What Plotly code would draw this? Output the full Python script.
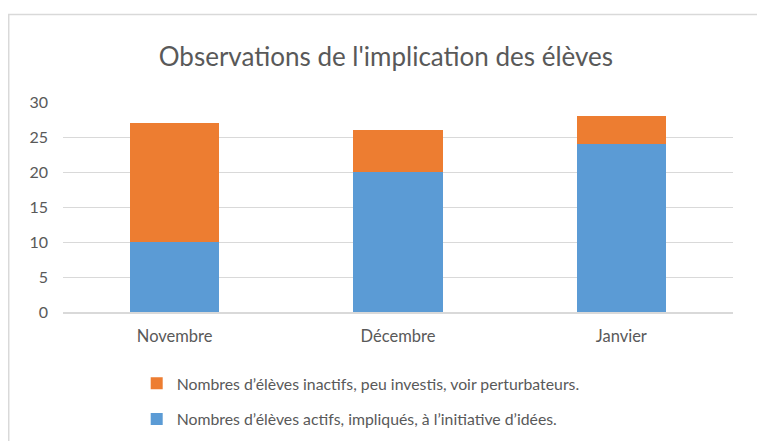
import plotly.graph_objects as go

mois = ["Novembre", "Décembre", "Janvier"]
actifs = [10, 20, 24]
inactifs = [17, 6, 4]

BLEU = "#5B9BD5"
ORANGE = "#ED7D31"
GRIS_TEXTE = "#595959"
FONT = "Lato"

fig = go.Figure()
fig.add_trace(go.Bar(
    x=mois, y=actifs, name="Nombres d’élèves actifs, impliqués, à l’initiative d’idées.",
    marker_color=BLEU, marker_line_width=0, legendgroup="a", legendrank=2,
))
fig.add_trace(go.Bar(
    x=mois, y=inactifs, name="Nombres d’élèves inactifs, peu investis, voir perturbateurs.",
    marker_color=ORANGE, marker_line_width=0, legendgroup="b", legendrank=1,
))

# cadre du graphique (style Excel)
fig.add_shape(type="rect", xref="paper", yref="paper",
              x0=-0.081, x1=1.042, y0=-0.7, y1=1.417,
              line=dict(color="#d9d9d9", width=1.5), layer="below")

fig.update_layout(
    width=765, height=441,
    barmode="stack", bargap=0.6,
    plot_bgcolor="white", paper_bgcolor="white",
    font=dict(family=FONT, color=GRIS_TEXTE, size=13),
    title=dict(text="Observations de l'implication des élèves",
               x=0.494, xanchor="center", y=0.888, yanchor="middle",
               font=dict(size=26, color=GRIS_TEXTE, family=FONT)),
    margin=dict(l=55, r=40, t=94, b=137, autoexpand=False),
    yaxis=dict(range=[0, 30], dtick=5, showgrid=True, gridcolor="#d9d9d9",
               gridwidth=1, zeroline=False, ticks="", ticklabelstandoff=14,
               tickfont=dict(size=16)),
    xaxis=dict(showline=True, linecolor="#d9d9d9", linewidth=1.5, ticks="",
               ticklabelstandoff=8, tickfont=dict(size=16.5)),
    legend=dict(orientation="v", traceorder="grouped", tracegroupgap=12,
                x=0.11, xanchor="left", y=-0.26, yanchor="top",
                font=dict(size=15.8, color=GRIS_TEXTE), bgcolor="rgba(0,0,0,0)"),
    showlegend=True,
)

fig.write_html("out.html")
